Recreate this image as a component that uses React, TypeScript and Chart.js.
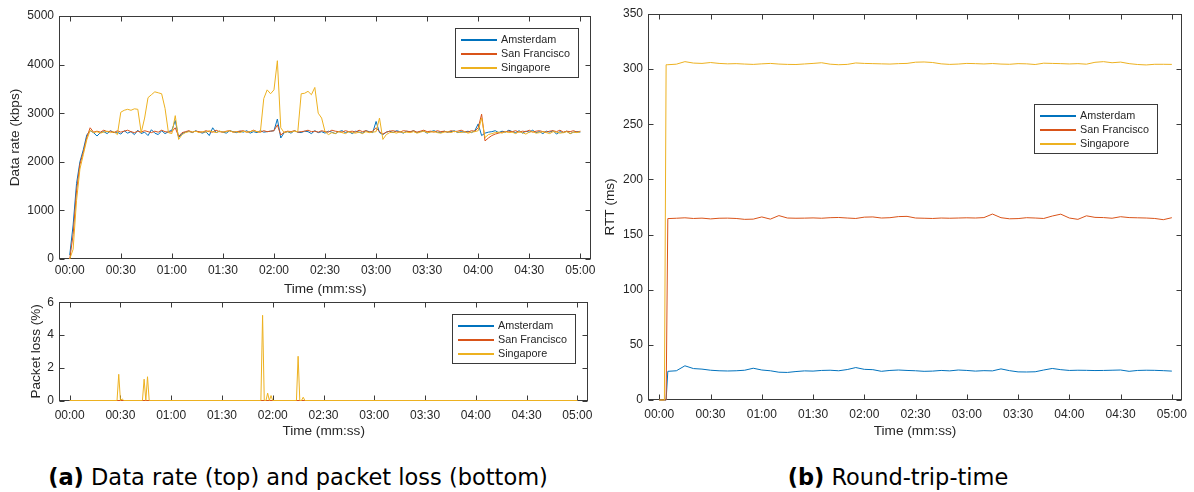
import React, { useEffect, useRef } from "react";
import { Chart, registerables } from "chart.js";

Chart.register(...registerables);

// ---------------- data ----------------
const seriesNames = ["Amsterdam", "San Francisco", "Singapore"];
const seriesColors = ["#0072BD", "#D95319", "#EDB120"];
const timeTickValues = [0, 30, 60, 90, 120, 150, 180, 210, 240, 270, 300];

const rateTimes = [
  0, 2, 4, 6, 8, 10, 12, 14, 16, 18, 20, 22, 24, 26, 28, 30, 32, 34, 36, 38,
  40, 42, 44, 46, 48, 50, 52, 54, 56, 58, 60, 62, 64, 66, 68, 70, 72, 74, 76, 78,
  80, 82, 84, 86, 88, 90, 92, 94, 96, 98, 100, 102, 104, 106, 108, 110, 112, 114, 116, 118,
  120, 122, 124, 126, 128, 130, 132, 134, 136, 138, 140, 142, 144, 146, 148, 150, 152, 154, 156, 158,
  160, 162, 164, 166, 168, 170, 172, 174, 176, 178, 180, 182, 184, 186, 188, 190, 192, 194, 196, 198,
  200, 202, 204, 206, 208, 210, 212, 214, 216, 218, 220, 222, 224, 226, 228, 230, 232, 234, 236, 238,
  240, 242, 244, 246, 248, 250, 252, 254, 256, 258, 260, 262, 264, 266, 268, 270, 272, 274, 276, 278,
  280, 282, 284, 286, 288, 290, 292, 294, 296, 298, 300,
];

const rateAmsterdam = [
  80, 700, 1550, 2000, 2250, 2550, 2640, 2600, 2530, 2600,
  2620, 2580, 2640, 2600, 2610, 2570, 2640, 2590, 2620, 2560,
  2650, 2580, 2610, 2540, 2660, 2590, 2560, 2640, 2580, 2620,
  2650, 2850, 2500, 2580, 2610, 2630, 2600, 2640, 2610, 2590,
  2620, 2540, 2700, 2600, 2630, 2610, 2590, 2640, 2620, 2600,
  2630, 2610, 2640, 2590, 2620, 2600, 2640, 2610, 2620, 2630,
  2640, 2880, 2490, 2600, 2620, 2590, 2640, 2610, 2600, 2630,
  2620, 2580, 2640, 2600, 2620, 2590, 2630, 2610, 2580, 2620,
  2640, 2600, 2620, 2580, 2630, 2610, 2590, 2640, 2620, 2600,
  2830, 2600, 2560, 2610, 2630, 2600, 2640, 2620, 2590, 2630,
  2610, 2640, 2600, 2620, 2630, 2590, 2620, 2640, 2610, 2600,
  2630, 2610, 2620, 2640, 2600, 2620, 2610, 2630, 2600, 2640,
  2780, 2540, 2590, 2610, 2620, 2640, 2600, 2630, 2610, 2650,
  2620, 2600, 2640, 2590, 2630, 2610, 2650, 2600, 2620, 2580,
  2630, 2610, 2640, 2570, 2620, 2600, 2630, 2580, 2610, 2620, 2610,
];

const rateSanFrancisco = [
  0, 500, 1400, 1950, 2200, 2500, 2700, 2610, 2630, 2610,
  2650, 2620, 2630, 2600, 2640, 2610, 2630, 2650, 2620, 2600,
  2630, 2610, 2640, 2620, 2600, 2630, 2610, 2650, 2620, 2610,
  2620, 2700, 2520, 2600, 2620, 2640, 2610, 2630, 2620, 2610,
  2640, 2620, 2610, 2650, 2620, 2610, 2630, 2640, 2610, 2620,
  2630, 2640, 2610, 2620, 2650, 2620, 2610, 2640, 2620, 2630,
  2640, 2760, 2550, 2610, 2630, 2620, 2640, 2610, 2620, 2630,
  2650, 2620, 2630, 2610, 2640, 2620, 2610, 2650, 2630, 2620,
  2610, 2640, 2620, 2630, 2610, 2650, 2620, 2640, 2610, 2630,
  2700, 2620, 2570, 2610, 2630, 2640, 2620, 2610, 2640, 2630,
  2620, 2640, 2610, 2630, 2650, 2620, 2630, 2610, 2640, 2620,
  2630, 2610, 2640, 2620, 2630, 2650, 2620, 2610, 2640, 2630,
  2700, 2980, 2430, 2490, 2540, 2570, 2590, 2610, 2620, 2630,
  2620, 2640, 2610, 2630, 2620, 2650, 2610, 2630, 2640, 2620,
  2610, 2630, 2640, 2620, 2650, 2610, 2630, 2620, 2640, 2610, 2630,
];

const rateSingapore = [
  0, 200, 1200, 1850, 2150, 2450, 2650, 2600, 2620, 2590,
  2610, 2630, 2600, 2620, 2560, 3020, 3060, 3080, 3060, 3090,
  3080, 2600, 2900, 3320, 3380, 3440, 3420, 3400, 3100, 2600,
  2580, 2950, 2460, 2560, 2600, 2620, 2610, 2630, 2600, 2620,
  2610, 2640, 2620, 2600, 2630, 2610, 2620, 2640, 2610, 2620,
  2600, 2630, 2610, 2620, 2640, 2620, 2610, 3300, 3480, 3400,
  3480, 4080, 2700, 2600, 2620, 2610, 2630, 2620, 3400, 3410,
  3450, 3380, 3530, 3000, 2900, 2620, 2560, 2600, 2580, 2620,
  2600, 2580, 2620, 2600, 2590, 2610, 2580, 2620, 2600, 2610,
  2620, 2900, 2460, 2560, 2600, 2610, 2590, 2620, 2600, 2610,
  2600, 2620, 2590, 2610, 2630, 2600, 2610, 2620, 2600, 2590,
  2610, 2620, 2600, 2630, 2610, 2600, 2620, 2590, 2610, 2620,
  2640, 2900, 2500, 2560, 2580, 2600, 2610, 2590, 2620, 2600,
  2610, 2580, 2620, 2600, 2570, 2610, 2620, 2590, 2600, 2620,
  2600, 2580, 2620, 2610, 2590, 2600, 2620, 2580, 2610, 2600, 2620,
];

const lossFlatTimes = [0, 300];
const lossAmsterdam = [0, 0];
const lossSanFrancisco = [0, 0];
const lossSingaporeTimes = [
  0, 28, 29, 30, 31, 32, 43, 44, 45, 46, 47, 113, 114, 115, 116, 117, 118, 119, 120,
  134, 135, 136, 137, 138, 139, 300,
];
const lossSingapore = [
  0, 0, 1.6, 0, 0.1, 0, 0, 1.3, 0, 1.45, 0, 0, 5.2, 0, 0, 0.45, 0, 0.3, 0,
  0, 2.7, 0, 0, 0.2, 0, 0,
];

const rttTimes = [
  0, 3, 4, 5, 10, 15, 20, 25, 30, 35, 40, 45, 50, 55, 60, 65, 70, 75, 80, 85, 90, 95, 100,
  105, 110, 115, 120, 125, 130, 135, 140, 145, 150, 155, 160, 165, 170, 175, 180, 185, 190, 195, 200,
  205, 210, 215, 220, 225, 230, 235, 240, 245, 250, 255, 260, 265, 270, 275, 280, 285, 290, 295, 300,
];

const rttAmsterdam = [
  0, 0, 0,
  26, 26.5, 31, 28.5, 28, 27, 26.5, 26.3, 26.5, 27,
  28.8, 27.2, 26.5, 25.2, 25, 25.8, 26.4, 26.2, 26.8, 27,
  26.5, 27.6, 29.4, 27.8, 27.5, 26, 26.8, 27.2, 26.8, 26.5,
  26, 26.2, 26.8, 26.4, 27.2, 26.8, 26.2, 26.6, 26.4, 28.2,
  26.6, 25.5, 25.4, 25.6, 27.2, 28.6, 27.5, 26.8, 27, 26.9,
  26.7, 26.8, 27, 27.2, 26, 26.8, 27, 26.9, 26.6, 26.2,
];

const rttSanFrancisco = [
  0, 0, 0,
  164.5, 164.8, 165.2, 164.6, 164.9, 164.2, 164.8, 164.9, 164.6, 163.8,
  164, 166, 164, 167.2, 165, 164.8, 164.9, 165.1, 164.8, 165.3,
  165.5, 165, 164.6, 165.8, 166, 165, 165.3, 166.3, 166.5, 165,
  164.8, 164.6, 165, 164.8, 165, 165.2, 165, 165.4, 168.6, 165.3,
  164.3, 164.5, 165.3, 165, 164.6, 166.8, 168.5, 165, 163.8, 167,
  165.6, 165.4, 164.8, 166.2, 165.4, 165.2, 165, 164.6, 163.5, 165.3,
];

const rttSingapore = [
  0, 0, 304,
  304, 304.5, 306.8, 305.5, 305.2, 306, 305.2, 304.8, 305, 304.6,
  304.3, 304.8, 305.2, 304.6, 304.3, 304.2, 304.7, 305.2, 305.8, 304.5,
  304, 304.3, 305.6, 305.2, 305, 304.8, 304.6, 305, 305.2, 306.3,
  306.5, 306, 304.8, 304.3, 304.6, 305.2, 305, 304.7, 305.1, 304.6,
  304.4, 305, 304.8, 304.2, 305.4, 305.2, 305, 304.7, 305, 304.5,
  306.2, 306.8, 305.8, 306.4, 305, 304.2, 303.8, 304.4, 304.4, 304.3,
];

// ---------------- styling helpers ----------------
const FONT = '"Liberation Sans", Arial, Helvetica, sans-serif';
const TEXT = "#262626";
const AXIS = "#3a3a3a";

const fmtTime = (v: number) =>
  `${String(Math.floor(v / 60)).padStart(2, "0")}:${String(v % 60).padStart(2, "0")}`;

const pts = (xs: number[], ys: number[]) => xs.map((x, i) => ({ x, y: ys[i] }));

const boxGeom = (chart: any) => {
  const a = chart.chartArea;
  return {
    L: Math.round(a.left) + 0.5,
    R: Math.round(a.right) - 0.5,
    T: Math.round(a.top) + 0.5,
    B: Math.round(a.bottom) - 0.5,
  };
};

const matlabBox = {
  id: "matlabBox",
  beforeDatasetsDraw(chart: any, _args: any, opts: any) {
    const { ctx } = chart;
    const xs = chart.scales.x;
    const ys = chart.scales.y;
    const { L, R, T, B } = boxGeom(chart);
    const tl = opts.tickLength ?? 5;
    ctx.save();
    ctx.strokeStyle = AXIS;
    ctx.lineWidth = 1;
    ctx.beginPath();
    xs.ticks.forEach((t: any) => {
      const px = Math.round(xs.getPixelForValue(t.value)) + 0.5;
      ctx.moveTo(px, B);
      ctx.lineTo(px, B - tl);
      ctx.moveTo(px, T);
      ctx.lineTo(px, T + tl);
    });
    ys.ticks.forEach((t: any) => {
      const py = Math.round(ys.getPixelForValue(t.value)) + 0.5;
      ctx.moveTo(L, py);
      ctx.lineTo(L + tl, py);
      ctx.moveTo(R, py);
      ctx.lineTo(R - tl, py);
    });
    ctx.stroke();
    ctx.strokeRect(L, T, R - L, B - T);
    ctx.restore();
  },
  afterDraw(chart: any, _args: any, opts: any) {
    const { ctx, chartArea: a } = chart;
    const lg = opts.legend;
    if (!lg) return;
    ctx.save();
    ctx.font = `${lg.fontSize}px ${FONT}`;
    let maxW = 0;
    seriesNames.forEach((n) => (maxW = Math.max(maxW, ctx.measureText(n).width)));
    const w = Math.round(lg.lineStart + lg.lineLen + lg.textGap + maxW + 8);
    const h = Math.round(lg.firstRow * 2 + lg.rowGap * (seriesNames.length - 1));
    const bx = Math.round(a.right - lg.right - w);
    const by = Math.round(a.top + lg.top);
    ctx.fillStyle = "#ffffff";
    ctx.fillRect(bx, by, w, h);
    ctx.strokeStyle = AXIS;
    ctx.lineWidth = 1;
    ctx.strokeRect(bx + 0.5, by + 0.5, w, h);
    ctx.textBaseline = "middle";
    ctx.textAlign = "left";
    seriesNames.forEach((name, i) => {
      const ry = Math.round(by + lg.firstRow + i * lg.rowGap);
      ctx.fillStyle = seriesColors[i];
      ctx.fillRect(bx + lg.lineStart, ry, lg.lineLen, 2);
    });
    ctx.fillStyle = TEXT;
    seriesNames.forEach((name, i) => {
      const ry = Math.round(by + lg.firstRow + i * lg.rowGap);
      ctx.fillText(name, bx + lg.lineStart + lg.lineLen + lg.textGap, ry + 1);
    });
    ctx.restore();
  },
};

const timeAxis = (min: number, max: number, height: number, tickPad: number, titlePadBottom: number) => ({
  type: "linear",
  min,
  max,
  afterBuildTicks: (s: any) => {
    s.ticks = timeTickValues.map((v) => ({ value: v }));
  },
  afterFit: (s: any) => {
    s.height = height;
  },
  grid: { display: false, drawTicks: false },
  border: { display: false },
  ticks: {
    padding: tickPad,
    color: TEXT,
    autoSkip: false,
    maxRotation: 0,
    font: { family: FONT, size: 12 },
    callback: (v: any) => fmtTime(Number(v)),
  },
  title: {
    display: true,
    text: "Time (mm:ss)",
    color: TEXT,
    font: { family: FONT, size: 13.6 },
    padding: { top: 0, bottom: titlePadBottom },
  },
});

const valueAxis = (min: number, max: number, step: number, width: number, title: string, titlePad: number) => ({
  type: "linear",
  min,
  max,
  afterFit: (s: any) => {
    s.width = width;
  },
  grid: { display: false, drawTicks: false },
  border: { display: false },
  ticks: {
    stepSize: step,
    padding: 5,
    color: TEXT,
    font: { family: FONT, size: 12 },
    callback: (v: any) => String(v),
  },
  title: {
    display: true,
    text: title,
    color: TEXT,
    font: { family: FONT, size: 13.6 },
    padding: { top: titlePad, bottom: 0 },
  },
});

const makeDatasets = (series: { x: number[]; y: number[] }[]) =>
  series.map((s, i) => ({
    label: seriesNames[i],
    data: pts(s.x, s.y),
    borderColor: seriesColors[i],
    backgroundColor: seriesColors[i],
    borderWidth: 1,
    pointRadius: 0,
    tension: 0,
    fill: false,
    clip: 2,
    order: series.length - i,
  }));

const baseOptions = (padding: any, scales: any, legend: any) => ({
  responsive: false,
  animation: false,
  events: [],
  layout: { padding },
  plugins: {
    legend: { display: false },
    tooltip: { enabled: false },
    matlabBox: { tickLength: 5, legend },
  },
  scales,
});

const legendCfg = (right: number, top: number) => ({
  right,
  top,
  fontSize: 10.8,
  lineStart: 6,
  lineLen: 36,
  textGap: 4,
  firstRow: 10.5,
  rowGap: 14,
});

const configRate = () => ({
  type: "line",
  data: {
    datasets: makeDatasets([
      { x: rateTimes, y: rateAmsterdam },
      { x: rateTimes, y: rateSanFrancisco },
      { x: rateTimes, y: rateSingapore },
    ]),
  },
  options: baseOptions(
    { left: 0, right: 7, top: 16, bottom: 0 },
    {
      x: timeAxis(-6.3, 306.5, 41, 4.5, 3),
      y: valueAxis(0, 5000, 1000, 59, "Data rate (kbps)", 7.5),
    },
    legendCfg(13, 12)
  ),
  plugins: [matlabBox],
});

const configLoss = () => ({
  type: "line",
  data: {
    datasets: makeDatasets([
      { x: lossFlatTimes, y: lossAmsterdam },
      { x: lossFlatTimes, y: lossSanFrancisco },
      { x: lossSingaporeTimes, y: lossSingapore },
    ]),
  },
  options: baseOptions(
    { left: 0, right: 7, top: 9, bottom: 0 },
    {
      x: timeAxis(-6.3, 306.5, 39.5, 7.5, 0.5),
      y: valueAxis(0, 6, 2, 59, "Packet loss (%)", 28),
    },
    legendCfg(13, 12)
  ),
  plugins: [matlabBox],
});

const configRtt = () => ({
  type: "line",
  data: {
    datasets: makeDatasets([
      { x: rttTimes, y: rttAmsterdam },
      { x: rttTimes, y: rttSanFrancisco },
      { x: rttTimes, y: rttSingapore },
    ]),
  },
  options: baseOptions(
    { left: 0, right: 7, top: 14, bottom: 0 },
    {
      x: timeAxis(-6.6, 306, 40, 7, 0.5),
      y: valueAxis(0, 350, 50, 48, "RTT (ms)", 2),
    },
    legendCfg(25, 89.5)
  ),
  plugins: [matlabBox],
});

function ChartCanvas(props: { left: number; top: number; width: number; height: number; config: () => any }) {
  const ref = useRef<HTMLCanvasElement>(null);
  useEffect(() => {
    const chart = new Chart(ref.current as HTMLCanvasElement, props.config() as any);
    return () => chart.destroy();
  }, []);
  return (
    <canvas
      ref={ref}
      width={props.width}
      height={props.height}
      style={{ position: "absolute", left: props.left, top: props.top, width: props.width, height: props.height }}
    />
  );
}

const captionStyle: React.CSSProperties = {
  position: "absolute",
  top: 463,
  fontFamily: "'DejaVu Sans', sans-serif",
  fontSize: 22.5,
  lineHeight: "28px",
  color: "#000",
  textAlign: "center",
  whiteSpace: "nowrap",
};

export default function App() {
  return (
    <div
      style={{
        position: "absolute",
        left: 0,
        top: 0,
        width: 1194,
        height: 492,
        background: "#ffffff",
        overflow: "hidden",
      }}
    >
      <ChartCanvas left={0} top={0} width={600} height={300} config={configRate} />
      <ChartCanvas left={0} top={290} width={600} height={150} config={configLoss} />
      <ChartCanvas left={600} top={0} width={594} height={440} config={configRtt} />
      <div style={{ ...captionStyle, left: 0, width: 596 }}>
        <b>(a)</b> Data rate (top) and packet loss (bottom)
      </div>
      <div style={{ ...captionStyle, left: 600, width: 596 }}>
        <b>(b)</b> Round-trip-time
      </div>
    </div>
  );
}
